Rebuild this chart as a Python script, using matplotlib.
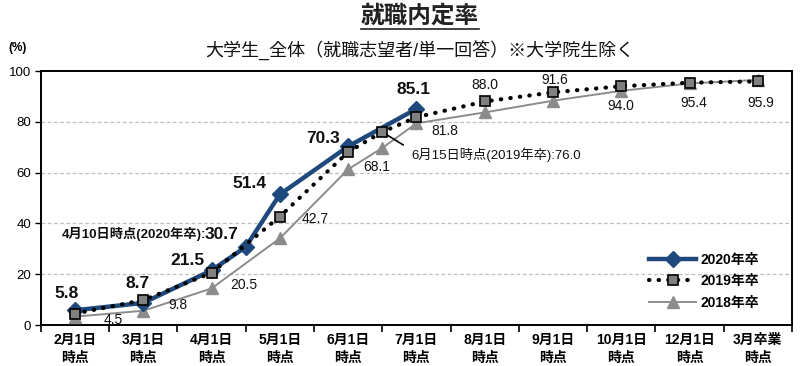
import matplotlib
matplotlib.use("Agg")
import matplotlib.pyplot as plt
from matplotlib.lines import Line2D

plt.rcParams['font.family'] = ['Liberation Sans', 'Noto Sans CJK JP']

# categories on the x axis (two-line tick labels)
categories = ["2月1日\n時点", "3月1日\n時点", "4月1日\n時点", "5月1日\n時点", "6月1日\n時点",
              "7月1日\n時点", "8月1日\n時点", "9月1日\n時点", "10月1日\n時点", "12月1日\n時点",
              "3月卒業\n時点"]

# 2020年卒 (includes the 4月10日 point between 4月1日 and 5月1日)
x_2020 = [0, 1, 2, 2.5, 3, 4, 5]
v_2020 = [5.8, 8.7, 21.5, 30.7, 51.4, 70.3, 85.1]

# 2019年卒 / 2018年卒 (include the 6月15日 point between 6月1日 and 7月1日)
x_prev = [0, 1, 2, 3, 4, 4.5, 5, 6, 7, 8, 9, 10]
v_2019 = [4.5, 9.8, 20.5, 42.7, 68.1, 76.0, 81.8, 88.0, 91.6, 94.0, 95.4, 95.9]
v_2018 = [3.3, 5.6, 14.4, 34.1, 61.3, 69.7, 79.4, 83.7, 88.3, 92.2, 95.1, 96.5]

navy = '#1F497D'
grey = '#8C8C8C'

fig = plt.figure(figsize=(8, 3.66), dpi=100)
ax = fig.add_axes([0.051, 0.112, 0.939, 0.694])

l18, = ax.plot(x_prev, v_2018, color=grey, lw=1.4, marker='^', ms=8,
               mfc=grey, mec=grey, zorder=3, label='2018年卒')
l20, = ax.plot(x_2020, v_2020, color=navy, lw=3.2, marker='D', ms=8,
               mfc=navy, mec=navy, zorder=4, label='2020年卒')
l19, = ax.plot(x_prev, v_2019, color='black', lw=3, linestyle=(0, (0.1, 2.2)),
               dash_capstyle='round', marker='s', ms=7, mfc='#808080', mec='black',
               mew=1.2, zorder=5, label='2019年卒')

# 2020 data labels (bold, above left)
offs_2020 = [(-8, 17), (-6, 19), (-24, 10), (-30, 11), (-25, 8), (-3, 19)]
for i, (dx, dy) in zip([0, 1, 2, 4, 5, 6], offs_2020):
    ax.annotate(f"{v_2020[i]:.1f}", (x_2020[i], v_2020[i]), xytext=(dx, dy),
                textcoords='offset pixels', ha='center', va='center',
                fontsize=12.5, fontweight='bold', color='#111111', zorder=6)

# 4月10日 note
ax.annotate("30.7", (x_2020[3], v_2020[3]), xytext=(-7, 13), textcoords='offset pixels',
            ha='right', va='center', fontsize=12.5, fontweight='bold', color='#111111')
ax.annotate("4月10日時点(2020年卒):", (x_2020[3], v_2020[3]), xytext=(-40, 13),
            textcoords='offset pixels', ha='right', va='center', fontsize=9.5,
            fontweight='bold', color='#111111')

# 2019 data labels
offs_2019 = [(38, -6), (35, -5), (32, -12), (35, -2), (29, -15), None, (28, -14),
             (0, 16), (2, 12), (0, -20), (4, -20), (3, -22)]
for xv, yv, off in zip(x_prev, v_2019, offs_2019):
    if off is None:
        continue
    ax.annotate(f"{yv:.1f}", (xv, yv), xytext=off, textcoords='offset pixels',
                ha='center', va='center', fontsize=10, color='#111111', zorder=6)

# 6月15日 note with leader line
ax.annotate("", (x_prev[5], v_2019[5]), xytext=(21, -13), textcoords='offset pixels',
            arrowprops=dict(arrowstyle='-', color='black', lw=1.2, shrinkA=0, shrinkB=0))
ax.annotate(f"6月15日時点(2019年卒):{v_2019[5]:.1f}", (x_prev[5], v_2019[5]),
            xytext=(29, -23), textcoords='offset pixels', ha='left', va='center',
            fontsize=9.5, color='#111111')

ax.set_xlim(-0.5, 10.5)
ax.set_ylim(0, 100)
ax.set_xticks(range(len(categories)))
ax.set_xticklabels(categories, fontsize=10, fontweight='bold', linespacing=1.3)
ax.set_xticks([i - 0.5 for i in range(len(categories) + 1)], minor=True)
ax.tick_params(axis='x', which='major', length=0, pad=6)
ax.tick_params(axis='x', which='minor', length=5, width=1.2, direction='out')
ax.set_yticks([0, 20, 40, 60, 80, 100])
ax.tick_params(axis='y', length=4, width=1, labelsize=9.5, pad=3)
for g in [20, 40, 60, 80]:
    ax.axhline(g, color='#BFBFBF', lw=0.9, ls=(0, (3, 2)), zorder=1)
for s in ax.spines.values():
    s.set_linewidth(1.4)

ax.legend(handles=[l20, l19, l18], loc='upper left', bbox_to_anchor=(0.81, 0.285),
          frameon=False, fontsize=10, handlelength=3.4, handletextpad=0.3,
          borderpad=0, borderaxespad=0, labelspacing=0.55,
          prop={'weight': 'bold', 'size': 10})

# titles
t = fig.text(0.525, 0.957, "就職内定率", ha='center', va='center', fontsize=17,
             fontweight='bold', color='#222222')
fig.text(0.525, 0.862, "大学生_全体（就職志望者/単一回答）※大学院生除く", ha='center',
         va='center', fontsize=13, color='#111111')
fig.text(0.01, 0.87, "(%)", ha='left', va='center', fontsize=8.5, fontweight='bold')

fig.canvas.draw()
bb = t.get_window_extent().transformed(fig.transFigure.inverted())
fig.add_artist(Line2D([bb.x0, bb.x1], [bb.y0 - 0.004, bb.y0 - 0.004], color='#222222',
                      lw=1.2, transform=fig.transFigure))

fig.savefig("out.png", dpi=100)
